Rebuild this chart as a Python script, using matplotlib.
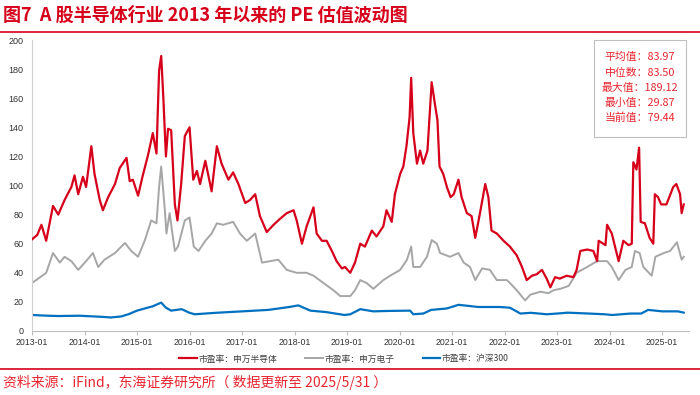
import matplotlib
matplotlib.use("Agg")
import matplotlib.pyplot as plt
from matplotlib.lines import Line2D
from matplotlib.patches import Rectangle

plt.rcParams['font.family'] = ['Noto Sans CJK SC', 'DejaVu Sans']

# ---- data (decimal years, PE values) ----
red_t = [2013.0, 2013.1, 2013.18, 2013.27, 2013.4, 2013.5, 2013.62, 2013.75, 2013.81, 2013.88, 2013.97,
         2014.03, 2014.13, 2014.19, 2014.29, 2014.35, 2014.45, 2014.58, 2014.67, 2014.8, 2014.86, 2014.92,
         2015.02, 2015.11, 2015.21, 2015.3, 2015.37, 2015.42, 2015.46, 2015.5, 2015.55, 2015.59, 2015.65,
         2015.72, 2015.77, 2015.84, 2015.91, 2016.0, 2016.07, 2016.14, 2016.2, 2016.3, 2016.42, 2016.52,
         2016.61, 2016.74, 2016.83, 2016.93, 2017.06, 2017.15, 2017.25, 2017.34, 2017.47, 2017.6, 2017.72,
         2017.85, 2017.98, 2018.04, 2018.14, 2018.23, 2018.36, 2018.42, 2018.52, 2018.61, 2018.71, 2018.8,
         2018.9, 2018.96, 2019.06, 2019.15, 2019.25, 2019.34, 2019.47, 2019.56, 2019.69, 2019.75, 2019.85,
         2019.91, 2020.01, 2020.07, 2020.13, 2020.19, 2020.22, 2020.26, 2020.33, 2020.39, 2020.45, 2020.53,
         2020.58, 2020.61, 2020.68, 2020.72, 2020.76, 2020.83, 2020.9, 2020.97, 2021.03, 2021.12, 2021.18,
         2021.28, 2021.37, 2021.44, 2021.53, 2021.63, 2021.69, 2021.75, 2021.85, 2021.98, 2022.1, 2022.23,
         2022.33, 2022.42, 2022.52, 2022.61, 2022.71, 2022.8, 2022.87, 2022.96, 2023.05, 2023.18, 2023.31,
         2023.37, 2023.44, 2023.57, 2023.69, 2023.76, 2023.79, 2023.92, 2023.95, 2024.04, 2024.17, 2024.26,
         2024.36, 2024.42, 2024.45, 2024.51, 2024.56, 2024.59, 2024.67, 2024.76, 2024.83, 2024.86, 2024.92,
         2024.98, 2025.08, 2025.21, 2025.27, 2025.34, 2025.37, 2025.41]
red_v = [63, 66, 73, 62, 86, 80, 90, 99, 107, 94, 106,
         99, 127, 108, 90, 83, 92, 101, 112, 119, 103, 104,
         93, 107, 121, 136, 122, 179, 189, 161, 120, 139, 138,
         87, 76, 101, 134, 140, 104, 110, 101, 117, 96, 127,
         115, 104, 109, 101, 88, 90, 94, 79, 68, 73, 77,
         81, 83, 76, 60, 72, 85, 67, 62, 62, 55, 48,
         43, 44, 40, 47, 60, 58, 69, 65, 72, 83, 75,
         94, 108, 113, 127, 147, 174, 136, 115, 124, 115, 124,
         154, 171, 154, 145, 113, 108, 99, 92, 94, 104, 92,
         81, 79, 64, 81, 101, 92, 69, 67, 62, 58, 52,
         44, 35, 38, 39, 42, 36, 30, 37, 36, 38, 37,
         42, 55, 56, 55, 48, 62, 59, 73, 67, 48, 62,
         59, 60, 116, 111, 126, 75, 74, 64, 60, 94, 92,
         87, 87, 99, 101, 94, 81, 87]

gray_t = [2013.0, 2013.18, 2013.27, 2013.4, 2013.53, 2013.62, 2013.75, 2013.88, 2014.03, 2014.16, 2014.26,
          2014.38, 2014.58, 2014.77, 2014.89, 2015.02, 2015.15, 2015.27, 2015.37, 2015.42, 2015.46, 2015.53,
          2015.56, 2015.62, 2015.72, 2015.78, 2015.91, 2016.0, 2016.08, 2016.17, 2016.3, 2016.42, 2016.52,
          2016.64, 2016.83, 2016.96, 2017.09, 2017.25, 2017.38, 2017.53, 2017.69, 2017.85, 2018.04, 2018.23,
          2018.36, 2018.55, 2018.74, 2018.87, 2019.06, 2019.15, 2019.25, 2019.37, 2019.5, 2019.69, 2019.82,
          2020.01, 2020.14, 2020.22, 2020.26, 2020.39, 2020.52, 2020.61, 2020.71, 2020.77, 2020.96, 2021.12,
          2021.22, 2021.34, 2021.44, 2021.57, 2021.72, 2021.85, 2022.04, 2022.1, 2022.23, 2022.39, 2022.49,
          2022.68, 2022.83, 2022.93, 2023.06, 2023.22, 2023.37, 2023.57, 2023.76, 2023.95, 2024.04, 2024.17,
          2024.3, 2024.42, 2024.48, 2024.57, 2024.64, 2024.8, 2024.87, 2025.03, 2025.15, 2025.28, 2025.37,
          2025.41]
gray_v = [33, 37.6, 40, 53.6, 47, 51, 48, 42, 48, 53.6, 44,
          49, 53.6, 60.5, 55, 51, 62.5, 76, 74, 99, 113, 83,
          67, 81, 55, 58, 76, 78, 58, 55, 62, 67, 74,
          73, 75, 67, 62, 67, 47, 48, 49, 42, 40, 40,
          38, 33, 28, 24, 24, 28, 35, 33, 29, 35, 38,
          42, 49, 58, 44, 44, 51, 62.5, 60, 53.6, 51, 53.6,
          47, 44, 35, 43, 42, 35, 35, 33, 28, 21, 25,
          27, 26, 28, 29, 31, 40, 44, 48, 48, 44, 35,
          42, 44, 55, 53.6, 44, 38, 51, 53.6, 55, 61, 49,
          51]

blue_t = [2013.0, 2013.3, 2013.5, 2013.9, 2014.3, 2014.5, 2014.7, 2014.85, 2015.0, 2015.1, 2015.3,
          2015.46, 2015.55, 2015.65, 2015.85, 2016.0, 2016.1, 2016.5, 2017.0, 2017.5, 2017.9, 2018.07,
          2018.3, 2018.6, 2018.95, 2019.06, 2019.25, 2019.5, 2019.8, 2020.2, 2020.26, 2020.45, 2020.6,
          2020.9, 2021.12, 2021.5, 2021.9, 2022.1, 2022.3, 2022.5, 2022.8, 2023.0, 2023.2, 2023.6,
          2023.9, 2024.05, 2024.4, 2024.6, 2024.73, 2025.0, 2025.3, 2025.41]
blue_v = [11, 10.5, 10.3, 10.5, 9.8, 9.3, 10, 11.7, 14, 15, 17,
          19.5, 16, 14, 15, 12.5, 11.5, 12.5, 13.5, 14.5, 16.5, 17.6,
          14, 13, 11, 11.5, 15, 13.5, 13.8, 14, 11.5, 12, 14.5,
          15.5, 18, 16.5, 16.5, 16, 12, 12.5, 11.5, 12, 12.6, 12.0,
          11.5, 11, 12, 12, 14.5, 13.5, 13.5, 12.6]

series_names = ["市盈率：申万半导体", "市盈率：申万电子", "市盈率：沪深300"]
year_ticks = list(range(2013, 2026))
year_labels = [f"{y}-01" for y in year_ticks]
y_ticks = list(range(0, 201, 20))
stats_lines = ["平均值：83.97", "中位数：83.50", "最大值：189.12", "最小值：29.87", "当前值：79.44"]

title = "图7  A 股半导体行业 2013 年以来的 PE 估值波动图"
source = "资料来源：iFind，东海证券研究所（ 数据更新至 2025/5/31 ）"

RED = "#d7001b"
TXT_RED = "#e8262f"
GRAY = "#a6a6a6"
BLUE = "#0070c0"

W, H = 700, 395
fig = plt.figure(figsize=(7, 3.95), dpi=100)
fig.patch.set_facecolor("white")

ax = fig.add_axes([32 / W, 1 - 331 / H, (689 - 32) / W, (331 - 40) / H])

ax.plot(red_t, red_v, color=RED, lw=1.6, label=series_names[0], zorder=3)
ax.plot(gray_t, gray_v, color=GRAY, lw=1.4, label=series_names[1], zorder=2)
ax.plot(blue_t, blue_v, color=BLUE, lw=1.6, label=series_names[2], zorder=2)

ax.set_xlim(2013.0, 2025.51)
ax.set_ylim(0, 200)
ax.set_xticks(year_ticks)
ax.set_xticklabels(year_labels, fontsize=6.3, color="#333333", family=["Liberation Sans", "DejaVu Sans"])
ax.set_yticks(y_ticks)
ax.set_yticklabels([str(v) for v in y_ticks], fontsize=6.5, color="#333333", family=["Liberation Sans", "DejaVu Sans"])
ax.tick_params(axis="x", length=3, color="#bfbfbf", pad=2)
ax.tick_params(axis="y", length=0, pad=6)
for s in ["top", "right"]:
    ax.spines[s].set_visible(False)
ax.spines["left"].set_color("#d0d0d0")
ax.spines["bottom"].set_color("#bfbfbf")

leg = fig.legend(loc="center", bbox_to_anchor=(344 / W, 1 - 359 / H), ncol=3, frameon=False,
                 fontsize=6.3, handlelength=2.0, handletextpad=0.2, columnspacing=3.2)
for t in leg.get_texts():
    t.set_color("#404040")

# stats box
box = Rectangle((594 / W, 1 - 137 / H), (686 - 594) / W, (137 - 40) / H, transform=fig.transFigure,
                facecolor="white", edgecolor="#bfbfbf", lw=0.8, zorder=5)
fig.add_artist(box)
ys = [56.5, 73, 88, 102.5, 118]
for line, y in zip(stats_lines, ys):
    fig.text(640 / W, 1 - y / H, line, ha="center", va="center", fontsize=7.8, color=TXT_RED, zorder=6)

# title and rules
fig.text(3 / W, 1 - 15 / H, title, ha="left", va="center", fontsize=13, fontweight="bold", color=RED)
fig.add_artist(Line2D([0, 1], [1 - 32 / H, 1 - 32 / H], transform=fig.transFigure, color=RED, lw=1.2))
fig.add_artist(Line2D([0, 1], [1 - 369 / H, 1 - 369 / H], transform=fig.transFigure, color=RED, lw=1.2))
fig.text(3 / W, 1 - 382 / H, source, ha="left", va="center", fontsize=10, color=TXT_RED)

fig.savefig("out.png", dpi=100)
